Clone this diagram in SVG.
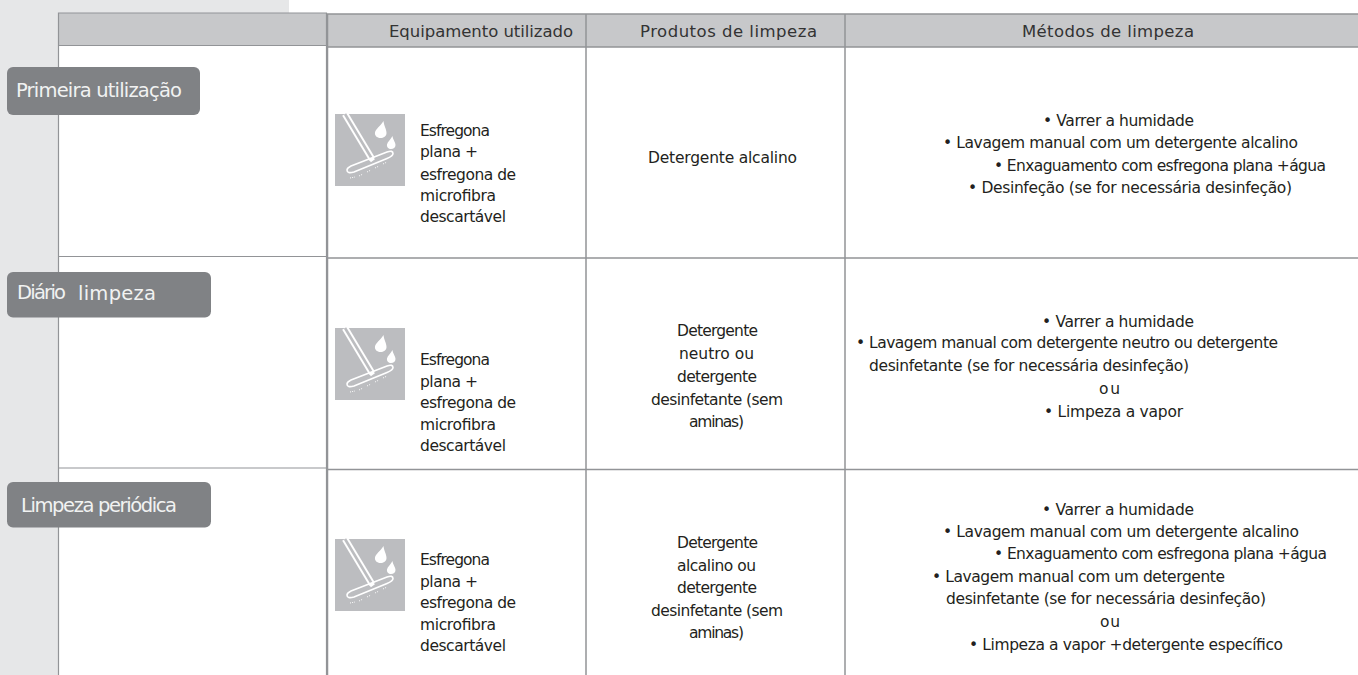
<svg xmlns="http://www.w3.org/2000/svg" width="1358" height="675" viewBox="0 0 1358 675">
<style>
text{font-family:"DejaVu Sans","Verdana",sans-serif;fill:#231f20;font-size:15.500px}
.h{font-size:16.500px;fill:#333}
.p{fill:#f1f2f2;font-size:19.500px}
.pill{fill:#808285}
.hd{fill:#c7c8ca}
.ln{stroke:#929497;stroke-width:1.5;fill:none}
.ll{stroke:#929497;stroke-width:1.200;fill:none}
</style>
<defs>
<g id="mop">
<rect width="70" height="72" fill="#bcbdc0"/>
<path d="M10 0L37 45" stroke="#fff" stroke-width="6.500" fill="none"/>
<path d="M10 0L37 45" stroke="#bcbdc0" stroke-width="2.600" fill="none"/>
<path d="M35 47L39 44" stroke="#fff" stroke-width="3" fill="none"/>
<path d="M16 52L52 38Q58 36 58 39.500Q58 42 52 44.500L19 58Q12 60 12 56Q12 54 16 52Z" fill="none" stroke="#fff" stroke-width="1.600"/>
<path d="M15 64L20 63M24 62L28 60M32 58L36 56M40 54L44 52M48 50L52 48" stroke="#fff" stroke-width="1" stroke-dasharray="1 1.200" fill="none"/>
<path d="M48.500 7C49 12 51.500 15 51.500 19C51.500 22.500 48.500 24 45.500 24C42 24 39.500 21.500 40 18.500C40.500 15 45.500 12 48.500 7Z" fill="#fff"/>
<path d="M57.500 22C58 26 60.500 28 60.500 31C60.500 33.500 58.500 35 56 35C53.500 35 51.500 33 52 30.500C52.500 28 55.500 25.500 57.500 22Z" fill="#fff"/>
</g>
</defs>
<g id="background">
<rect x="0" y="0" width="289" height="14" fill="#e6e7e8"/>
<rect x="0" y="0" width="58" height="675" fill="#e6e7e8"/>
</g>
<g id="table">
<rect x="58.500" y="13" width="268" height="32.500" class="hd"/>
<rect x="327.500" y="14" width="1031" height="33" class="hd"/>
<path class="ll" d="M58.500 675V13H326.500V675M58 45.500H326.500M58 256.500H326.500M58 468H326.500"/>
<path class="ln" d="M327.500 675V14H1358M327.500 47H1358M327.500 258H1358M327.500 469.500H1358M586 14V675M845 14V675"/>
</g>
<g id="header">
<text class="h" x="389" y="37" textLength="184">Equipamento utilizado</text>
<text class="h" x="640" y="37" textLength="177">Produtos de limpeza</text>
<text class="h" x="1022" y="37" textLength="172">Métodos de limpeza</text>
</g>
<g id="row-primeira">
<rect class="pill" x="7" y="67" width="193" height="48" rx="6"/>
<text class="p" x="16" y="97" textLength="166">Primeira utilização</text>
<use href="#mop" x="335" y="114"/>
<text x="420" y="136" textLength="70">Esfregona</text>
<text x="420" y="157" textLength="58">plana +</text>
<text x="420" y="180" textLength="96">esfregona de</text>
<text x="420" y="201" textLength="76">microfibra</text>
<text x="420" y="222" textLength="86">descartável</text>
<text x="648" y="163" textLength="149">Detergente alcalino</text>
<text x="1043" y="126" textLength="151">• Varrer a humidade</text>
<text x="943" y="148" textLength="355">• Lavagem manual com um detergente alcalino</text>
<text x="994" y="171" textLength="332">• Enxaguamento com esfregona plana +água</text>
<text x="968" y="193" textLength="324">• Desinfeção (se for necessária desinfeção)</text>
</g>
<g id="row-diario">
<rect class="pill" x="7" y="272" width="204" height="45.500" rx="6"/>
<text class="p" x="17" y="299" textLength="49">Diário</text>
<text class="p" x="78" y="300" textLength="78">limpeza</text>
<use href="#mop" x="335" y="328"/>
<text x="420" y="365" textLength="70">Esfregona</text>
<text x="420" y="387" textLength="58">plana +</text>
<text x="420" y="408" textLength="96">esfregona de</text>
<text x="420" y="430" textLength="76">microfibra</text>
<text x="420" y="451" textLength="86">descartável</text>
<text x="677" y="336" textLength="81">Detergente</text>
<text x="679" y="359" textLength="75">neutro ou</text>
<text x="677" y="382" textLength="80">detergente</text>
<text x="651" y="405" textLength="132">desinfetante (sem</text>
<text x="689" y="427" textLength="55">aminas)</text>
<text x="1042" y="327" textLength="152">• Varrer a humidade</text>
<text x="856" y="348" textLength="422">• Lavagem manual com detergente neutro ou detergente</text>
<text x="869" y="371" textLength="320">desinfetante (se for necessária desinfeção)</text>
<text x="1099" y="394" textLength="21">ou</text>
<text x="1044" y="417" textLength="139">• Limpeza a vapor</text>
</g>
<g id="row-periodica">
<rect class="pill" x="7" y="482" width="204" height="45.500" rx="6"/>
<text class="p" x="21" y="512" textLength="156">Limpeza periódica</text>
<use href="#mop" x="335" y="539"/>
<text x="420" y="565" textLength="70">Esfregona</text>
<text x="420" y="587" textLength="58">plana +</text>
<text x="420" y="608" textLength="96">esfregona de</text>
<text x="420" y="630" textLength="76">microfibra</text>
<text x="420" y="651" textLength="86">descartável</text>
<text x="677" y="548" textLength="81">Detergente</text>
<text x="677" y="571" textLength="79">alcalino ou</text>
<text x="677" y="593" textLength="80">detergente</text>
<text x="651" y="616" textLength="132">desinfetante (sem</text>
<text x="689" y="638" textLength="55">aminas)</text>
<text x="1042" y="515" textLength="152">• Varrer a humidade</text>
<text x="943" y="537" textLength="356">• Lavagem manual com um detergente alcalino</text>
<text x="994" y="559" textLength="333">• Enxaguamento com esfregona plana +água</text>
<text x="932" y="582" textLength="293">• Lavagem manual com um detergente</text>
<text x="946" y="604" textLength="320">desinfetante (se for necessária desinfeção)</text>
<text x="1100" y="627" textLength="20">ou</text>
<text x="969" y="650" textLength="314">• Limpeza a vapor +detergente específico</text>
</g>
</svg>
